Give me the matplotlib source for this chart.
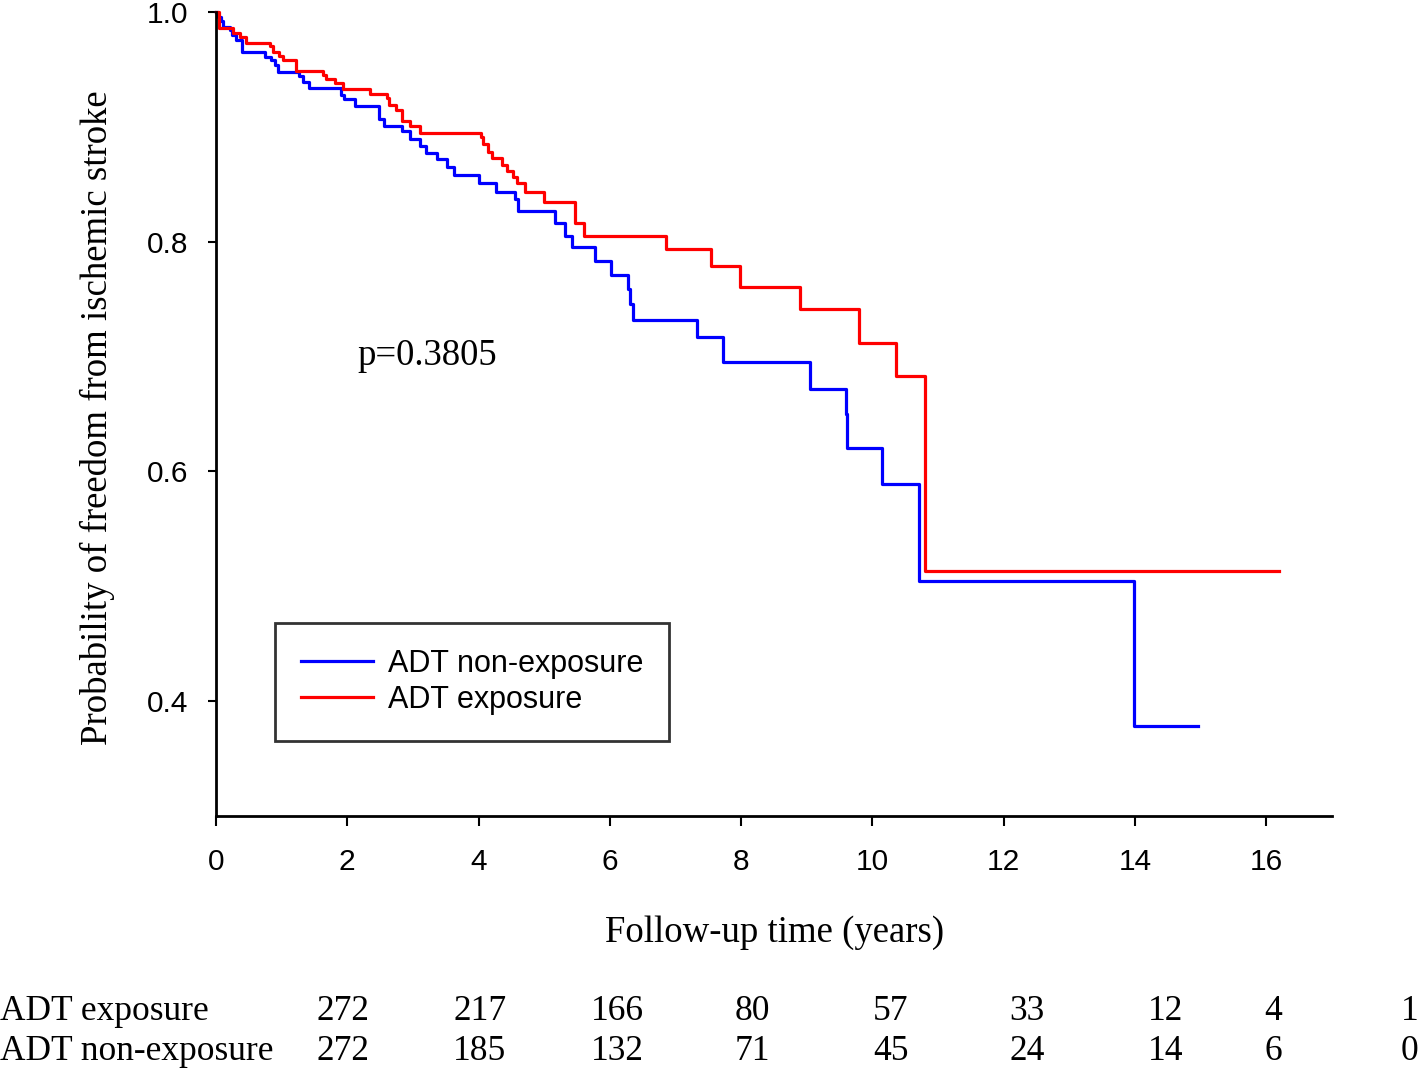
import matplotlib
matplotlib.use("Agg")
import matplotlib.pyplot as plt

# Kaplan-Meier steps (time in years, survival probability)
non_exp_time = [0, 0.035, 0.07, 0.10, 0.21, 0.25, 0.30, 0.39, 0.75, 0.84, 0.90, 0.95,
                1.27, 1.33, 1.41, 1.91, 1.95, 2.12, 2.48, 2.56, 2.84, 2.96, 3.10, 3.20,
                3.37, 3.52, 3.63, 4.01, 4.27, 4.55, 4.60, 5.17, 5.32, 5.43, 5.78, 6.01,
                6.27, 6.31, 6.35, 7.33, 7.72, 9.05, 9.59, 9.61, 10.14, 10.71, 13.98, 14.96]
non_exp_surv = [1.0, 0.996, 0.992, 0.987, 0.984, 0.980, 0.976, 0.965, 0.961, 0.958, 0.954, 0.948,
                0.944, 0.939, 0.934, 0.928, 0.924, 0.918, 0.907, 0.901, 0.896, 0.889, 0.883, 0.877,
                0.872, 0.865, 0.858, 0.851, 0.843, 0.837, 0.827, 0.816, 0.805, 0.795, 0.783, 0.771,
                0.759, 0.746, 0.732, 0.717, 0.695, 0.672, 0.650, 0.620, 0.589, 0.505, 0.378, 0.378]

exp_time = [0, 0.05, 0.26, 0.37, 0.46, 0.82, 0.87, 0.96, 1.02, 1.22, 1.63, 1.67, 1.82, 1.93,
            2.34, 2.61, 2.64, 2.74, 2.83, 2.96, 3.10, 4.04, 4.07, 4.15, 4.20, 4.35, 4.43, 4.53,
            4.58, 4.70, 4.99, 5.47, 5.60, 6.86, 7.54, 7.98, 8.89, 9.80, 10.36, 10.80, 16.20]
exp_surv = [1.0, 0.986, 0.982, 0.978, 0.973, 0.970, 0.965, 0.962, 0.958, 0.949, 0.945, 0.942, 0.938, 0.933,
            0.929, 0.925, 0.919, 0.915, 0.905, 0.901, 0.895, 0.891, 0.885, 0.878, 0.873, 0.867, 0.862, 0.856,
            0.851, 0.843, 0.835, 0.816, 0.805, 0.794, 0.779, 0.761, 0.741, 0.712, 0.683, 0.513, 0.513]

# number at risk table
risk_exp = [272, 217, 166, 80, 57, 33, 12, 4, 1]
risk_non_exp = [272, 185, 132, 71, 45, 24, 14, 6, 0]
x_ticks = [0, 2, 4, 6, 8, 10, 12, 14, 16]
y_ticks = [0.4, 0.6, 0.8, 1.0]

SANS = "Liberation Sans"
SERIF = "Liberation Serif"

fig = plt.figure(figsize=(14.18, 10.68), dpi=100)
ax = fig.add_axes([216 / 1418, 1 - 816 / 1068, 1116 / 1418, 804 / 1068])

ax.step(non_exp_time, non_exp_surv, where="post", color="#0000ff", lw=2.3,
        label="ADT non-exposure", clip_on=False)
ax.step(exp_time, exp_surv, where="post", color="#ff0000", lw=2.3,
        label="ADT exposure", clip_on=False)

ax.set_xlim(0, 17)
ax.set_ylim(0.3, 1.0)
ax.set_xticks(x_ticks)
ax.set_yticks(y_ticks)
ax.set_xticklabels([str(v) for v in x_ticks], fontsize=21.5, family=SANS)
ax.set_yticklabels([f"{v:.1f}" for v in y_ticks], fontsize=21.5, family=SANS)
ax.tick_params(axis="x", length=7, width=1.5, pad=16)
ax.tick_params(axis="y", length=6, width=1.5, pad=14)
for side in ["top", "right"]:
    ax.spines[side].set_visible(False)
for side in ["left", "bottom"]:
    ax.spines[side].set_linewidth(2)

ax.text(2.15, 0.701, "p=0.3805", fontsize=26.5, family=SERIF, ha="left", va="center")

leg = ax.legend(loc="lower left", bbox_to_anchor=(59 / 1116, 75 / 804), borderaxespad=0,
                prop={"family": SANS, "size": 22}, frameon=True, fancybox=False,
                edgecolor="black", handlelength=2.35, handletextpad=0.5,
                labelspacing=0.2, borderpad=0.85)
leg.get_frame().set_linewidth(2)

fig.text(97 / 1418, 1 - 418 / 1068, "Probability of freedom from ischemic stroke",
         rotation=90, ha="center", va="center", fontsize=26.5, family=SERIF)
fig.text(775 / 1418, 1 - 933 / 1068, "Follow-up time (years)",
         ha="center", va="center", fontsize=26.5, family=SERIF)

# at-risk rows
col_x = [343, 480, 617, 752, 891, 1027, 1166, 1273, 1410]
rows = [("ADT exposure", risk_exp, 1011), ("ADT non-exposure", risk_non_exp, 1052)]
for name, counts, ypx in rows:
    fig.text(0, 1 - ypx / 1068, name, ha="left", va="center", fontsize=25.5, family=SERIF)
    for cx, n in zip(col_x, counts):
        fig.text(cx / 1418, 1 - ypx / 1068, str(n), ha="center", va="center",
                 fontsize=25.5, family=SERIF)

fig.savefig("out.png", dpi=100)
